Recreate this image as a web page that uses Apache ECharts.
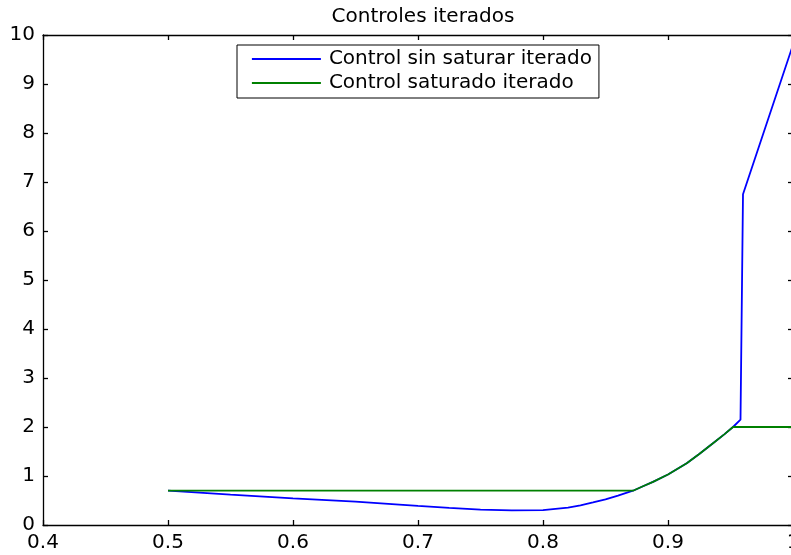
<!DOCTYPE html>
<html>
<head>
<meta charset="utf-8">
<title>Controles iterados</title>
<script src="https://cdn.jsdelivr.net/npm/echarts@6/dist/echarts.min.js"></script>
<style>
  html, body { margin: 0; padding: 0; background: #ffffff; }
  #chart { width: 791px; height: 555px; }
</style>
</head>
<body>
<div id="chart"></div>
<script>
// Iterated control signal (unsaturated), sampled along x
const xSinSaturar = [0.5, 0.55, 0.6, 0.65, 0.685, 0.7, 0.725, 0.75, 0.775, 0.8, 0.82, 0.83, 0.84, 0.85, 0.86, 0.866, 0.872, 0.88, 0.888, 0.9, 0.915, 0.925, 0.936, 0.945, 0.952, 0.958, 0.96, 1.0];
const ySinSaturar = [0.70, 0.62, 0.545, 0.475, 0.415, 0.39, 0.35, 0.315, 0.297, 0.305, 0.355, 0.40, 0.46, 0.525, 0.60, 0.65, 0.70, 0.79, 0.88, 1.03, 1.26, 1.45, 1.67, 1.85, 2.0, 2.15, 6.75, 9.8];

// Iterated control signal (saturated at 2)
const xSaturado = [0.5, 0.872, 0.88, 0.888, 0.9, 0.915, 0.925, 0.936, 0.945, 0.952, 1.0];
const ySaturado = [0.70, 0.70, 0.79, 0.88, 1.03, 1.26, 1.45, 1.67, 1.85, 2.0, 2.0];

const seriesNames = ['Control sin saturar iterado', 'Control saturado iterado'];
const chartTitle = 'Controles iterados';

const FONT = 'DejaVu Sans';
const pairs = (xs, ys) => xs.map((x, i) => [x, ys[i]]);

const chart = echarts.init(document.getElementById('chart'), null, { renderer: 'canvas' });

const axisCommon = {
  axisLine: { show: true, onZero: false, lineStyle: { color: '#000', width: 1.3 } },
  axisTick: { show: true, inside: true, length: 5, lineStyle: { color: '#000', width: 1.3 } },
  splitLine: { show: false }
};

chart.setOption({
  animation: false,
  backgroundColor: '#ffffff',
  title: {
    text: chartTitle,
    left: 418,
    textAlign: 'center',
    top: 2,
    textStyle: { fontFamily: FONT, fontSize: 20, fontWeight: 'normal', color: '#000' }
  },
  legend: {
    orient: 'vertical',
    left: 237,
    top: 45,
    padding: [4, 7, 5, 14],
    itemGap: 4,
    itemWidth: 69,
    itemHeight: 20,
    borderColor: '#000',
    borderWidth: 1,
    backgroundColor: '#fff',
    data: seriesNames,
    itemStyle: { opacity: 0 },
    lineStyle: { width: 1.8 },
    textStyle: { fontFamily: FONT, fontSize: 20, color: '#000', lineHeight: 20, padding: [0, 0, 0, 3] }
  },
  grid: { left: 43, top: 35, width: 750, height: 490, containLabel: false, outerBoundsMode: 'none' },
  xAxis: [
    Object.assign({}, axisCommon, {
      type: 'value', position: 'bottom', min: 0.4, max: 1.0, interval: 0.1,
      axisLabel: { margin: 8, fontFamily: FONT, fontSize: 20, color: '#000',
        formatter: v => String(+v.toFixed(1)) }
    }),
    Object.assign({}, axisCommon, {
      type: 'value', position: 'top', min: 0.4, max: 1.0, interval: 0.1,
      axisLabel: { show: false }
    })
  ],
  yAxis: [
    Object.assign({}, axisCommon, {
      type: 'value', position: 'left', min: 0, max: 10, interval: 1,
      axisLabel: { margin: 8, fontFamily: FONT, fontSize: 20, color: '#000' }
    }),
    Object.assign({}, axisCommon, {
      type: 'value', position: 'right', min: 0, max: 10, interval: 1,
      axisLabel: { show: false }
    })
  ],
  series: [
    {
      name: seriesNames[0], type: 'line', symbol: 'none',
      data: pairs(xSinSaturar, ySinSaturar),
      lineStyle: { color: '#0000ff', width: 1.8 }, itemStyle: { color: '#0000ff' },
      z: 2
    },
    {
      name: seriesNames[1], type: 'line', symbol: 'none',
      data: pairs(xSaturado, ySaturado),
      lineStyle: { color: '#008000', width: 1.8 }, itemStyle: { color: '#008000' },
      z: 3
    }
  ]
});
</script>
</body>
</html>
